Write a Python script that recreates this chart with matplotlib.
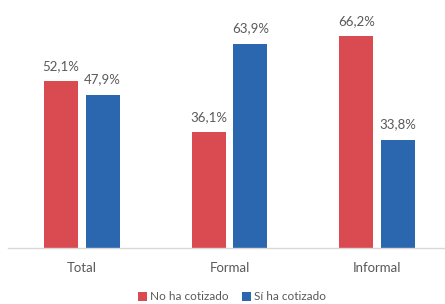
import matplotlib
matplotlib.use("Agg")
import matplotlib.pyplot as plt
import numpy as np

categories = ["Total", "Formal", "Informal"]
no_cotizado = [52.1, 36.1, 66.2]
si_cotizado = [47.9, 63.9, 33.8]
series_names = ["No ha cotizado", "Sí ha cotizado"]
colors = ["#D94B50", "#2B67AE"]

plt.rcParams['font.family'] = ['Lato', 'DejaVu Sans']

fig = plt.figure(figsize=(4.45, 3.04), dpi=100)
ax = fig.add_axes([8/445, 56/304, 437/445, 240/304])

x = np.arange(len(categories))
w = 0.23
off = 0.141
b1 = ax.bar(x - off, no_cotizado, w, color=colors[0], label=series_names[0])
b2 = ax.bar(x + off, si_cotizado, w, color=colors[1], label=series_names[1])

for bars, vals in [(b1, no_cotizado), (b2, si_cotizado)]:
    for b, v in zip(bars, vals):
        ax.text(b.get_x() + b.get_width()/2, v + 2.9, f"{v:.1f}%".replace('.', ','),
                ha='center', va='bottom', fontsize=9.5, color='#595959')

ax.set_xlim(-0.5, 2.46)
ax.set_ylim(0, 75)
ax.set_xticks(x)
ax.set_xticklabels(categories, fontsize=9.5, color='#595959')
ax.tick_params(axis='x', length=0, pad=10)
ax.set_yticks([])
for s in ['top', 'right', 'left']:
    ax.spines[s].set_visible(False)
ax.spines['bottom'].set_color('#D9D9D9')
ax.spines['bottom'].set_linewidth(1)

leg = fig.legend(handles=[b1, b2], labels=series_names, loc='center',
                 bbox_to_anchor=(232/445, 1 - 297/304), ncol=2, frameon=False,
                 fontsize=8.5, handlelength=0.75, handleheight=0.75,
                 handletextpad=0.25, columnspacing=1.1)
for t in leg.get_texts():
    t.set_color('#595959')

fig.savefig("out.png", dpi=100)
